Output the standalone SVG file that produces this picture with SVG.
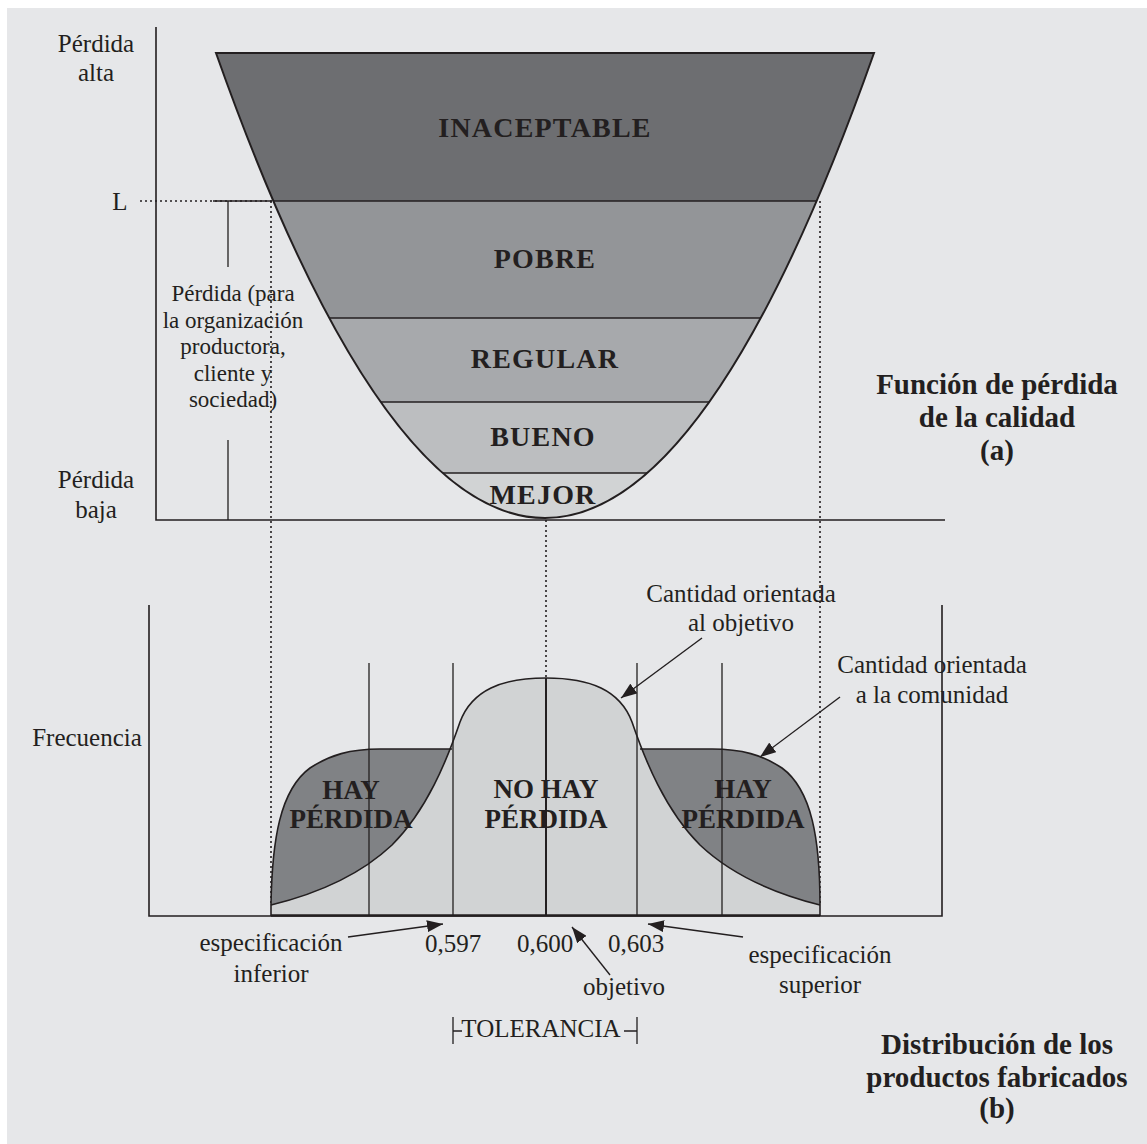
<svg xmlns="http://www.w3.org/2000/svg" width="1147" height="1144" viewBox="0 0 1147 1144">
<style>
.t{font-family:"Liberation Serif","DejaVu Serif",serif;font-size:25px;fill:#231f20;text-anchor:middle}
.s{font-size:23px}
.b{font-weight:bold;font-size:29px}
.bl{font-weight:bold;font-size:28px;letter-spacing:1.2px}
.bd{font-weight:bold;font-size:27px}
.ax{stroke:#231f20;stroke-width:1.6;fill:none}
.ln{stroke:#231f20;stroke-width:1.3;fill:none}
.dot{stroke:#231f20;stroke-width:1.6;stroke-dasharray:2 3;fill:none}
.cv{stroke:#231f20;stroke-width:1.6;fill:none}
.arr{stroke:#231f20;stroke-width:1.4;fill:none;marker-end:url(#ah)}
</style>
<defs>
<marker id="ah" viewBox="0 0 16 12" refX="16" refY="6" markerWidth="16" markerHeight="12" markerUnits="userSpaceOnUse" orient="auto">
<path d="M0,0 L16,6 L0,12 z" fill="#231f20"/>
</marker>
<clipPath id="para"><path d="M216,53 Q545,983 874,53 Z"/></clipPath>
</defs>
<rect x="7" y="8" width="1140" height="1136" fill="#e6e7e9"/>

<g id="chart-a">
<g id="bands" clip-path="url(#para)">
<rect x="200" y="40" width="700" height="161" fill="#6d6e71"/>
<rect x="200" y="201" width="700" height="117" fill="#939598"/>
<rect x="200" y="318" width="700" height="84" fill="#a7a9ac"/>
<rect x="200" y="402" width="700" height="71" fill="#bcbec0"/>
<rect x="200" y="473" width="700" height="60" fill="#d1d3d4"/>
<g stroke="#231f20" stroke-width="1.5">
<line x1="200" y1="201" x2="900" y2="201"/>
<line x1="200" y1="318" x2="900" y2="318"/>
<line x1="200" y1="402" x2="900" y2="402"/>
<line x1="200" y1="473" x2="900" y2="473"/>
</g>
</g>
<path d="M216,53 Q545,983 874,53 Z" stroke="#231f20" stroke-width="2" fill="none"/>
<path class="ax" d="M156,27 V520 H945"/>
<text class="t bl" x="545" y="137">INACEPTABLE</text>
<text class="t bl" x="545" y="268">POBRE</text>
<text class="t bl" x="545" y="368">REGULAR</text>
<text class="t bl" x="543" y="446">BUENO</text>
<text class="t bl" x="543" y="504">MEJOR</text>
<text class="t" x="96" y="52">Pérdida</text>
<text class="t" x="96" y="81">alta</text>
<text class="t" x="120" y="210">L</text>
<text class="t" x="96" y="488">Pérdida</text>
<text class="t" x="96" y="518">baja</text>
<g id="loss-bracket">
<line class="dot" x1="140" y1="201" x2="272" y2="201"/>
<line class="ln" x1="213" y1="201" x2="272" y2="201"/>
<line class="ln" x1="228" y1="201" x2="228" y2="267"/>
<line class="ln" x1="228" y1="440" x2="228" y2="520"/>
<text class="t s" x="233" y="301">Pérdida (para</text>
<text class="t s" x="233" y="327.5">la organización</text>
<text class="t s" x="233" y="354">productora,</text>
<text class="t s" x="233" y="380.5">cliente y</text>
<text class="t s" x="233" y="407">sociedad)</text>
</g>
<g id="title-a">
<text class="t b" x="997" y="394">Función de pérdida</text>
<text class="t b" x="997" y="427">de la calidad</text>
<text class="t b" x="997" y="460">(a)</text>
</g>
</g>

<g id="connectors">
<line class="dot" x1="271" y1="201" x2="271" y2="905"/>
<line class="dot" x1="820" y1="201" x2="820" y2="905"/>
<line class="dot" x1="546" y1="520" x2="546" y2="678"/>
</g>

<g id="chart-b">
<path class="ax" d="M149,605 V916 H942 V605"/>
<path id="center-dist" d="M271,916 L271,905 C312,895 357,878 392,845 C427,810 447,760 460,722 C472,690 502,678 546,678 C590,678 620,690 632,722 C645,760 665,810 700,845 C735,878 780,895 820,905 L820,916 Z" fill="#d1d3d4"/>
<path id="loss-left" d="M271,905 C272,840 280,790 310,768 C330,755 350,749 380,749 L450.3,749 C437.5,781.3 419.3,817.7 392,845 C357,878 312,895 272,905 Z" fill="#808285"/>
<path id="loss-right" d="M820,905 C820,840 812,790 782,768 C762,755 742,749 712,749 L641.7,749 C654.5,781.3 672.7,817.7 700,845 C735,878 780,895 820,905 Z" fill="#808285"/>
<path class="cv" d="M271,905 C312,895 357,878 392,845 C427,810 447,760 460,722 C472,690 502,678 546,678 C590,678 620,690 632,722 C645,760 665,810 700,845 C735,878 780,895 820,905"/>
<path class="cv" d="M271,905 C272,840 280,790 310,768 C330,755 350,749 380,749 L452,749"/>
<path class="cv" d="M820,905 C820,840 812,790 782,768 C762,755 742,749 712,749 L640,749"/>
<line class="cv" x1="271" y1="905" x2="271" y2="916"/>
<line class="cv" x1="820" y1="905" x2="820" y2="916"/>
<g class="ln">
<line x1="369" y1="663" x2="369" y2="916"/>
<line x1="453" y1="663" x2="453" y2="916"/>
<line x1="637" y1="663" x2="637" y2="916"/>
<line x1="722" y1="663" x2="722" y2="916"/>
</g>
<line x1="546" y1="678" x2="546" y2="916" stroke="#231f20" stroke-width="2"/>
<line x1="271" y1="915.5" x2="820" y2="915.5" stroke="#231f20" stroke-width="2.6"/>
<text class="t bd" x="351" y="799">HAY</text>
<text class="t bd" x="351" y="828">PÉRDIDA</text>
<text class="t bd" x="546" y="798">NO HAY</text>
<text class="t bd" x="546" y="828">PÉRDIDA</text>
<text class="t bd" x="743" y="798">HAY</text>
<text class="t bd" x="743" y="828">PÉRDIDA</text>
<text class="t" x="87" y="746">Frecuencia</text>
<g id="ann-objetivo">
<text class="t" x="741" y="602">Cantidad orientada</text>
<text class="t" x="741" y="631">al objetivo</text>
<line class="arr" x1="702" y1="638" x2="621" y2="698"/>
</g>
<g id="ann-comunidad">
<text class="t" x="932" y="673">Cantidad orientada</text>
<text class="t" x="932" y="703">a la comunidad</text>
<line class="arr" x1="840" y1="697" x2="760" y2="757"/>
</g>
<g id="ann-inferior">
<text class="t" x="271" y="951">especificación</text>
<text class="t" x="271" y="982">inferior</text>
<line class="arr" x1="348" y1="937" x2="443" y2="924"/>
</g>
<text class="t" x="453" y="952">0,597</text>
<text class="t" x="545" y="952">0,600</text>
<text class="t" x="636" y="952">0,603</text>
<g id="ann-target">
<text class="t" x="624" y="995">objetivo</text>
<line class="arr" x1="610" y1="975" x2="572" y2="927"/>
</g>
<g id="ann-superior">
<text class="t" x="820" y="963">especificación</text>
<text class="t" x="820" y="993">superior</text>
<line class="arr" x1="743" y1="937" x2="648" y2="924"/>
</g>
<g id="tolerance">
<path class="ln" d="M453,1017 V1044 M453,1031 H462 M624,1031 H637 M637,1017 V1044"/>
<text class="t" x="541" y="1037">TOLERANCIA</text>
</g>
<g id="title-b">
<text class="t b" x="997" y="1054">Distribución de los</text>
<text class="t b" x="997" y="1087">productos fabricados</text>
<text class="t b" x="997" y="1118">(b)</text>
</g>
</g>
</svg>
